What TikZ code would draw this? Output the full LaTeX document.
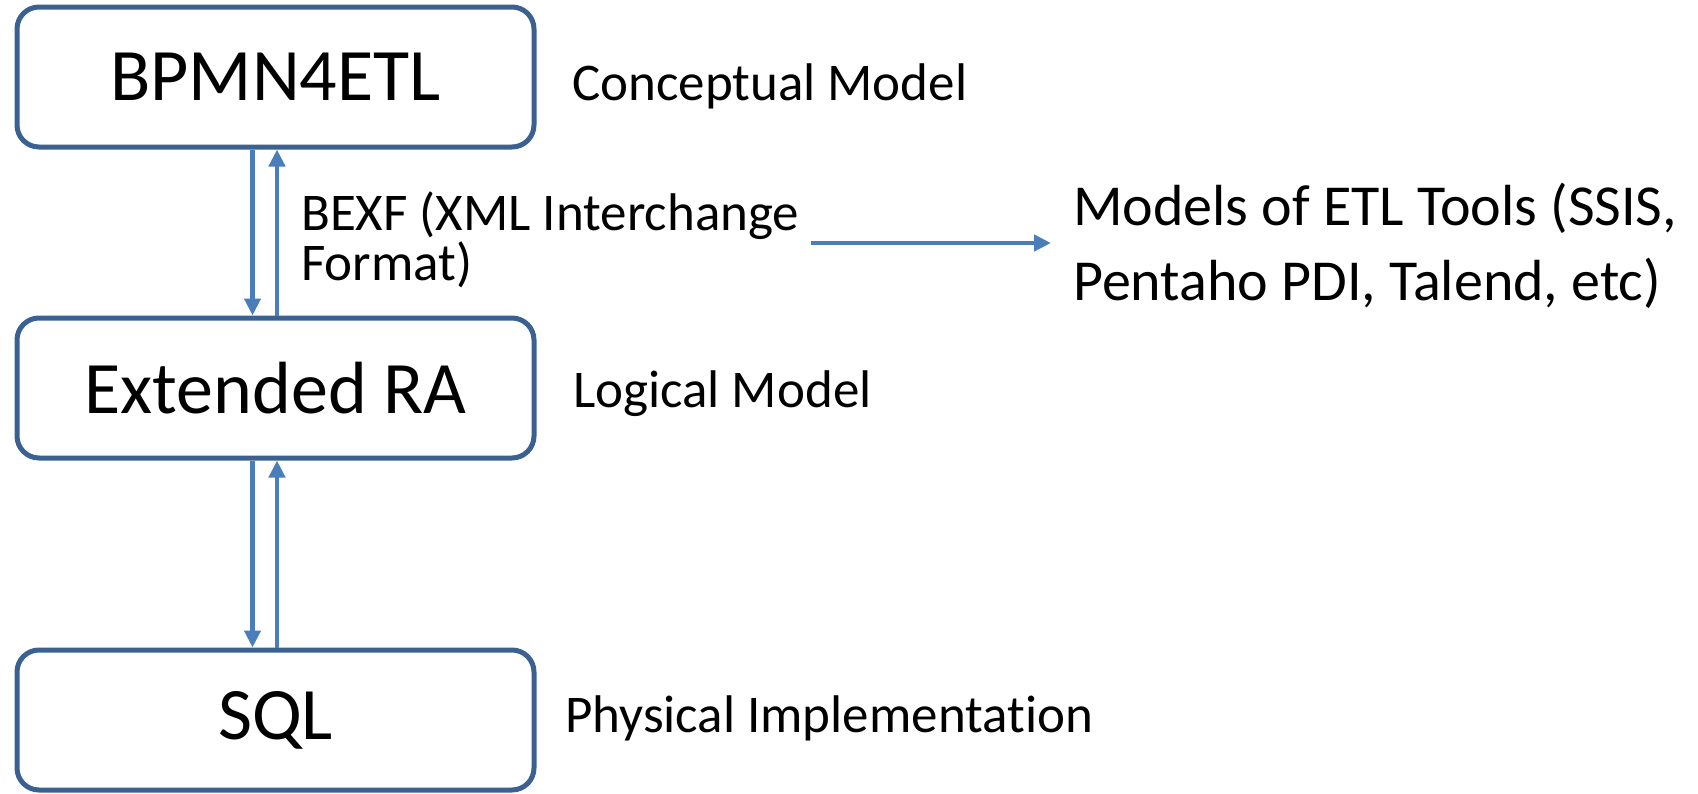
\documentclass[tikz,border=0pt]{standalone}
\usepackage{fontspec}
\setmainfont{Carlito}[Ligatures=NoCommon]
\usetikzlibrary{arrows.meta,calc}
\definecolor{boxline}{HTML}{3B6190}
\definecolor{arrowblue}{HTML}{4A7EBB}
\begin{document}
\begin{tikzpicture}[x=1pt,y=-1pt,
  box/.style={draw=boxline, line width=5pt, rounded corners=22pt,
    minimum width=517pt, minimum height=140pt, inner sep=0pt,
    font=\fontsize{74}{80}\selectfont},
  lbl/.style={anchor=base west, inner sep=0pt, font=\fontsize{53}{60}\selectfont},
  lblbig/.style={anchor=base west, inner sep=0pt, font=\fontsize{58}{66}\selectfont},
  arr/.style={draw=arrowblue, line width=4.5pt, -{Triangle[length=17pt,width=16pt]}}]
\useasboundingbox (0,0) rectangle (1698,793);
\node[box] (bpmn) at (275.5,77) {BPMN4ETL};
\node[box] (era) at (275.5,388) {Extended RA};
\node[box] (sql) at (275.5,720) {SQL};
\node[lbl] (cm) at (572,100) {Conceptual Model};
\node[lbl] (lm) at (573,407) {Logical Model};
\node[lbl] (pi) at (565,732) {Physical Implementation};
\node[lbl] (bexf1) at (301,230) {BEXF (XML Interchange};
\node[lbl] (bexf2) at (301,280) {Format)};
\node[lblbig] (mod1) at (1073,225) {Models of ETL Tools (SSIS,};
\node[lblbig] (mod2) at (1073,300) {Pentaho PDI, Talend, etc)};
\coordinate (hy) at (0,243);
\draw[arr] ([xshift=-23pt]bpmn.south) -- ([xshift=-23pt]era.north);
\draw[arr] ([xshift=1.5pt]era.north) -- ([xshift=1.5pt]bpmn.south);
\draw[arr] ([xshift=-23pt]era.south) -- ([xshift=-23pt]sql.north);
\draw[arr] ([xshift=1.5pt]sql.north) -- ([xshift=1.5pt]era.south);
\draw[arr] ($(bexf1.east |- hy)+(12,0)$) -- ($(mod1.west |- hy)+(-22,0)$);
\end{tikzpicture}
\end{document}
